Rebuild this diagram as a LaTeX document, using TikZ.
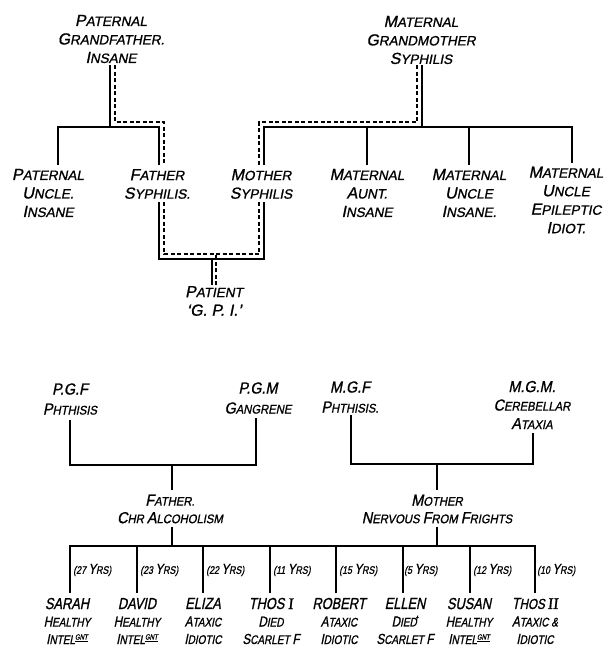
\documentclass[tikz,border=0pt]{standalone}
\usepackage{fontspec}
\newfontfamily\hand[FakeSlant=0.2,FakeBold=1]{Liberation Sans}
\newfontfamily\handh[FakeSlant=0.2,FakeStretch=0.9,FakeBold=1]{Liberation Sans}
\newfontfamily\handc[FakeSlant=0.2,FakeStretch=0.8,FakeBold=1]{Liberation Sans}
\newfontfamily\romnum[FakeSlant=0.1,FakeBold=1]{Liberation Serif}
\newcommand\Bg[1]{{\fontsize{16}{16}\selectfont #1}}
\newcommand\Bb[1]{{\fontsize{14.5}{14.5}\selectfont #1}}
\newcommand\gnt{\raisebox{4.5pt}{\fontsize{7.5}{7.5}\selectfont\underline{GNT}}}
\newcommand\dagmark{\kern-2pt\raisebox{5pt}{\fontsize{8}{8}\selectfont\textdagger}}
\begin{document}
\begin{tikzpicture}[x=1pt,y=-1pt,
  top/.style={font=\hand\fontsize{13.5}{18.5}\selectfont, align=center, inner sep=0pt},
  hdr/.style={font=\handh\fontsize{12.5}{20}\selectfont, align=center, inner sep=0pt},
  kid/.style={font=\handc\fontsize{12.5}{17.5}\selectfont, align=center, inner sep=0pt},
  age/.style={font=\handc\fontsize{11}{11}\selectfont, anchor=west, inner sep=0pt},
  sol/.style={line width=1.5pt},
  dsh/.style={line width=1.5pt, dash pattern=on 4pt off 2.5pt},
]
\fill[white] (0,0) rectangle (608,646);
\useasboundingbox (0,0) rectangle (608,646);

% ---------- top pedigree ----------
\node[top] (pgf) at (111,39) {\Bg{P}ATERNAL\\\Bg{G}RANDFATHER.\\\Bg{I}NSANE};
\node[top] (mgm) at (421,40) {\Bg{M}ATERNAL\\\Bg{G}RANDMOTHER\\\Bg{S}YPHILIS};
\node[top] (pu) at (48,193) {\Bg{P}ATERNAL\\\Bg{U}NCLE.\\\Bg{I}NSANE};
\node[top] (fa) at (157,184) {\Bg{F}ATHER\\\Bg{S}YPHILIS.};
\node[top] (mo) at (261,184) {\Bg{M}OTHER\\\Bg{S}YPHILIS};
\node[top] (ma) at (367,193) {\Bg{M}ATERNAL\\\Bg{A}UNT.\\\Bg{I}NSANE};
\node[top] (mu1) at (469,193) {\Bg{M}ATERNAL\\\Bg{U}NCLE\\\Bg{I}NSANE.};
\node[top] (mu2) at (566,200) {\Bg{M}ATERNAL\\\Bg{U}NCLE\\\Bg{E}PILEPTIC\\\Bg{I}DIOT.};
\node[top] (pat) at (214,301) {\Bg{P}ATIENT\\\Bg{‘G. P. I.’}};

\coordinate (gfS) at (110,65); \coordinate (gfD) at (115,65);
\coordinate (gmS) at (422,65); \coordinate (gmD) at (417,65);
\coordinate (puT) at (58,165);
\coordinate (faTS) at (159,165); \coordinate (faTD) at (164,165);
\coordinate (faBS) at (159,202); \coordinate (faBD) at (164,202);
\coordinate (moTS) at (264,165); \coordinate (moTD) at (259,165);
\coordinate (moBS) at (264,202); \coordinate (moBD) at (259,202);
\coordinate (maT) at (367,165); \coordinate (mu1T) at (469,165);
\coordinate (mu2T) at (572,163);
\coordinate (paS) at (212,285); \coordinate (paD) at (216,285);

\draw[sol] (gfS) -- ++(0,62);
\draw[sol] (puT) -- ++(0,-38) -| (faTS);
\draw[sol] (moTS) -- ++(0,-38) -| (mu2T);
\draw[sol] (gmS) -- ++(0,62);
\draw[sol] (maT) -- ++(0,-38);
\draw[sol] (mu1T) -- ++(0,-38);
\draw[sol] (faBS) -- ++(0,57) -| (moBS);
\draw[sol] (paS) -- ++(0,-26);
\draw[dsh] (gfD) -- ++(0,57) -| (faTD);
\draw[dsh] (gmD) -- ++(0,57) -| (moTD);
\draw[dsh] (faBD) -- ++(0,52) -| (moBD);
\draw[dsh] (paD) -- ++(0,-31);

% ---------- bottom pedigree ----------
\node[hdr] (pgf2) at (70,399) {\Bg{P.G.F}\\\Bg{P}HTHISIS};
\node[hdr] (pgm2) at (258,398) {\Bg{P.G.M}\\\Bg{G}ANGRENE};
\node[hdr] (mgf2) at (350,397) {\Bg{M.G.F}\\\Bg{P}HTHISIS.};
\node[hdr,font=\handh\fontsize{12.5}{18.5}\selectfont] (mgm2) at (532,405) {\Bg{M.G.M.}\\\Bg{C}EREBELLAR\\\Bg{A}TAXIA};
\node[hdr,font=\handh\fontsize{12.5}{17.5}\selectfont] (fa2) at (170,509) {\Bg{F}ATHER.\\\Bg{C}HR \Bg{A}LCOHOLISM};
\node[hdr,font=\handh\fontsize{12.5}{17.5}\selectfont] (mo2) at (437,509) {\Bg{M}OTHER\\\Bg{N}ERVOUS \Bg{F}ROM \Bg{F}RIGHTS};

\coordinate (pgfL) at (70,420); \coordinate (pgmL) at (256,418);
\coordinate (faU) at (172,490);
\coordinate (mgfL) at (351,415); \coordinate (mgmL) at (533,433);
\coordinate (moU) at (437,490);
\coordinate (faD) at (172,527); \coordinate (moD) at (437,527);

\draw[sol] (pgfL) -- ++(0,45) -| (pgmL);
\draw[sol] (faU) -- ++(0,-25);
\draw[sol] (mgfL) -- ++(0,49) -| (mgmL);
\draw[sol] (moU) -- ++(0,-26);
\draw[sol] (faD) -- ++(0,19);
\draw[sol] (moD) -- ++(0,19);

% children
\node[kid] (c1) at (67,621) {\Bg{SARAH}\\\Bb{H}EALTHY\\\Bb{I}NTEL\gnt};
\node[kid] (c2) at (137,621) {\Bg{DAVID}\\\Bb{H}EALTHY\\\Bb{I}NTEL\gnt};
\node[kid] (c3) at (203,621) {\Bg{ELIZA}\\\Bb{A}TAXIC\\\Bb{I}DIOTIC};
\node[kid] (c4) at (271,621) {\Bg{THOS {\romnum I}}\\\Bb{D}IED\\\Bb{S}CARLET \Bb{F}};
\node[kid] (c5) at (339,621) {\Bg{ROBERT}\\\Bb{A}TAXIC\\\Bb{I}DIOTIC};
\node[kid] (c6) at (405,621) {\Bg{ELLEN}\\\Bb{D}IED\dagmark\\\Bb{S}CARLET \Bb{F}};
\node[kid] (c7) at (469,621) {\Bg{SUSAN}\\\Bb{H}EALTHY\\\Bb{I}NTEL\gnt};
\node[kid] (c8) at (535,621) {\Bg{T}\Bb{HOS} \Bg{\romnum II}\\\Bb{A}TAXIC \&\\\Bb{I}DIOTIC};

\coordinate (k1) at (70,593); \coordinate (k2) at (137,593);
\coordinate (k3) at (203,593); \coordinate (k4) at (270,593);
\coordinate (k5) at (336,593); \coordinate (k6) at (403,593);
\coordinate (k7) at (470,593); \coordinate (k8) at (535,593);

\draw[sol] (k1) -- ++(0,-47) -| (k8);
\foreach \k in {k2,k3,k4,k5,k6,k7} \draw[sol] (\k) -- ++(0,-47);

\node[age] (a1) at (73,570) {(27 \Bb{Y}RS)};
\node[age] (a2) at (140,570) {(23 \Bb{Y}RS)};
\node[age] (a3) at (206,570) {(22 \Bb{Y}RS)};
\node[age] (a4) at (273,570) {(11 \Bb{Y}RS)};
\node[age] (a5) at (339,570) {(15 \Bb{Y}RS)};
\node[age] (a6) at (404,570) {(5 \Bb{Y}RS)};
\node[age] (a7) at (473,570) {(12 \Bb{Y}RS)};
\node[age] (a8) at (537,570) {(10 \Bb{Y}RS)};
\end{tikzpicture}
\end{document}
